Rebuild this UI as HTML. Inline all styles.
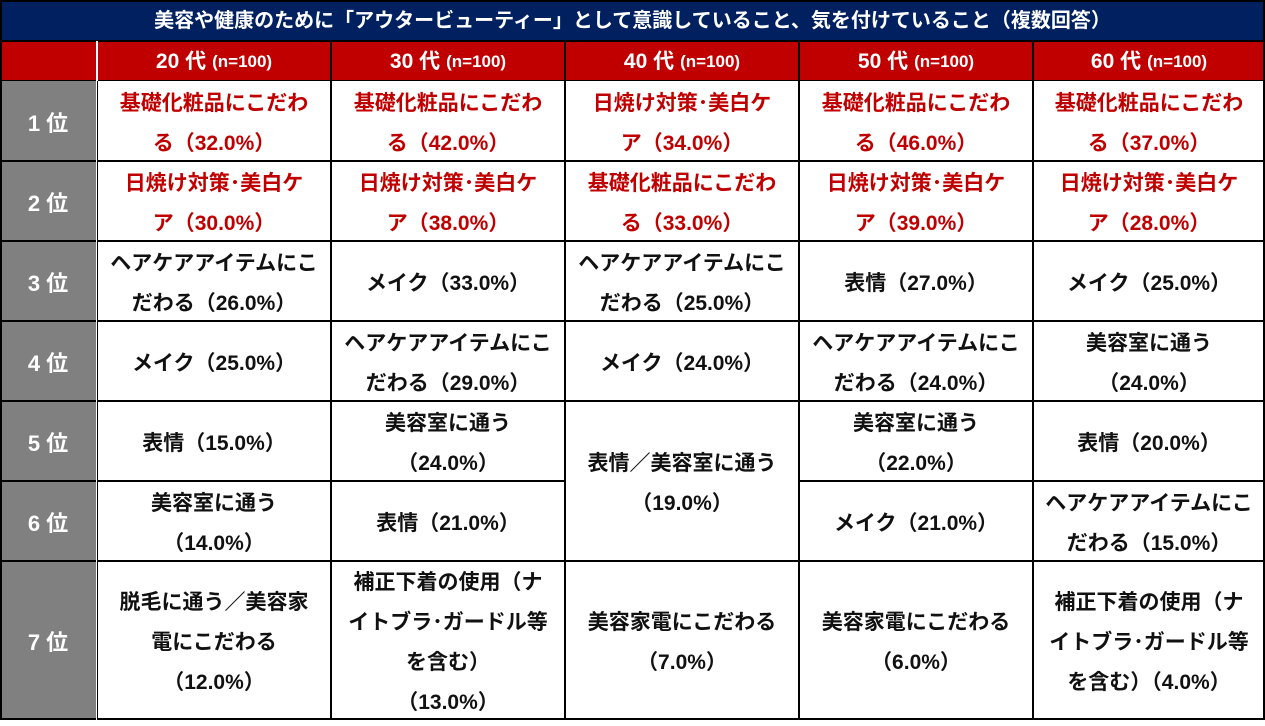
<!DOCTYPE html>
<html><head><meta charset="utf-8"><style>
body{margin:0;width:1265px;height:726px;background:#fff;position:relative;overflow:hidden;font-family:"Liberation Sans","Noto Sans CJK JP",sans-serif;font-weight:bold}
.c{position:absolute;display:flex;align-items:center;justify-content:center;text-align:center;box-sizing:border-box;font-size:21px;line-height:40px;color:#111;padding-top:5px}
.r{color:#c00000}
.g{background:#808080;color:#fff;font-size:22px}
.h{background:#c00000;color:#fff;font-size:21px;padding-top:2px}
.h small{font-size:17px;margin-left:6px}
.v{position:absolute;background:#000;width:2px}
.hl{position:absolute;background:#000;height:2px;left:0;width:1265px}
</style></head><body>
<div class="c" style="left:0;top:0;width:1265px;height:41px;background:#002060;color:#fff;font-size:20px;padding-top:1px">美容や健康のために「アウタービューティー」として意識していること、気を付けていること（複数回答）</div>
<div class="c" style="left:0;top:41px;width:1265px;height:40px;background:#c00000"></div>
<div class="c h" style="left:97px;top:41px;width:234px;height:40px">20 代<small>(n=100)</small></div>
<div class="c h" style="left:331px;top:41px;width:234px;height:40px">30 代<small>(n=100)</small></div>
<div class="c h" style="left:565px;top:41px;width:234px;height:40px">40 代<small>(n=100)</small></div>
<div class="c h" style="left:799px;top:41px;width:234px;height:40px">50 代<small>(n=100)</small></div>
<div class="c h" style="left:1033px;top:41px;width:232px;height:40px">60 代<small>(n=100)</small></div>
<div class="c g" style="left:0;top:81px;width:96px;height:638px"></div>
<div class="c g" style="left:0;top:81px;width:96px;height:80px">1 位</div>
<div class="c g" style="left:0;top:161px;width:96px;height:80px">2 位</div>
<div class="c g" style="left:0;top:241px;width:96px;height:80px">3 位</div>
<div class="c g" style="left:0;top:321px;width:96px;height:80px">4 位</div>
<div class="c g" style="left:0;top:401px;width:96px;height:80px">5 位</div>
<div class="c g" style="left:0;top:481px;width:96px;height:80px">6 位</div>
<div class="c g" style="left:0;top:561px;width:96px;height:158px">7 位</div>

<div class="c r" style="left:97px;top:81px;width:234px;height:80px">基礎化粧品にこだわ<br>る（32.0%）</div>
<div class="c r" style="left:331px;top:81px;width:234px;height:80px">基礎化粧品にこだわ<br>る（42.0%）</div>
<div class="c r" style="left:565px;top:81px;width:234px;height:80px">日焼け対策･美白ケ<br>ア（34.0%）</div>
<div class="c r" style="left:799px;top:81px;width:234px;height:80px">基礎化粧品にこだわ<br>る（46.0%）</div>
<div class="c r" style="left:1033px;top:81px;width:232px;height:80px">基礎化粧品にこだわ<br>る（37.0%）</div>

<div class="c r" style="left:97px;top:161px;width:234px;height:80px">日焼け対策･美白ケ<br>ア（30.0%）</div>
<div class="c r" style="left:331px;top:161px;width:234px;height:80px">日焼け対策･美白ケ<br>ア（38.0%）</div>
<div class="c r" style="left:565px;top:161px;width:234px;height:80px">基礎化粧品にこだわ<br>る（33.0%）</div>
<div class="c r" style="left:799px;top:161px;width:234px;height:80px">日焼け対策･美白ケ<br>ア（39.0%）</div>
<div class="c r" style="left:1033px;top:161px;width:232px;height:80px">日焼け対策･美白ケ<br>ア（28.0%）</div>

<div class="c" style="left:97px;top:241px;width:234px;height:80px">ヘアケアアイテムにこ<br>だわる（26.0%）</div>
<div class="c" style="left:331px;top:241px;width:234px;height:80px">メイク（33.0%）</div>
<div class="c" style="left:565px;top:241px;width:234px;height:80px">ヘアケアアイテムにこ<br>だわる（25.0%）</div>
<div class="c" style="left:799px;top:241px;width:234px;height:80px">表情（27.0%）</div>
<div class="c" style="left:1033px;top:241px;width:232px;height:80px">メイク（25.0%）</div>

<div class="c" style="left:97px;top:321px;width:234px;height:80px">メイク（25.0%）</div>
<div class="c" style="left:331px;top:321px;width:234px;height:80px">ヘアケアアイテムにこ<br>だわる（29.0%）</div>
<div class="c" style="left:565px;top:321px;width:234px;height:80px">メイク（24.0%）</div>
<div class="c" style="left:799px;top:321px;width:234px;height:80px">ヘアケアアイテムにこ<br>だわる（24.0%）</div>
<div class="c" style="left:1033px;top:321px;width:232px;height:80px">美容室に通う<br>（24.0%）</div>

<div class="c" style="left:97px;top:401px;width:234px;height:80px">表情（15.0%）</div>
<div class="c" style="left:331px;top:401px;width:234px;height:80px">美容室に通う<br>（24.0%）</div>
<div class="c" style="left:565px;top:401px;width:234px;height:160px">表情／美容室に通う<br>（19.0%）</div>
<div class="c" style="left:799px;top:401px;width:234px;height:80px">美容室に通う<br>（22.0%）</div>
<div class="c" style="left:1033px;top:401px;width:232px;height:80px">表情（20.0%）</div>

<div class="c" style="left:97px;top:481px;width:234px;height:80px">美容室に通う<br>（14.0%）</div>
<div class="c" style="left:331px;top:481px;width:234px;height:80px">表情（21.0%）</div>
<div class="c" style="left:799px;top:481px;width:234px;height:80px">メイク（21.0%）</div>
<div class="c" style="left:1033px;top:481px;width:232px;height:80px">ヘアケアアイテムにこ<br>だわる（15.0%）</div>

<div class="c" style="left:97px;top:561px;width:234px;height:158px">脱毛に通う／美容家<br>電にこだわる<br>（12.0%）</div>
<div class="c" style="left:331px;top:561px;width:234px;height:158px">補正下着の使用（ナ<br>イトブラ･ガードル等<br>を含む）<br>（13.0%）</div>
<div class="c" style="left:565px;top:561px;width:234px;height:158px">美容家電にこだわる<br>（7.0%）</div>
<div class="c" style="left:799px;top:561px;width:234px;height:158px">美容家電にこだわる<br>（6.0%）</div>
<div class="c" style="left:1033px;top:561px;width:232px;height:158px">補正下着の使用（ナ<br>イトブラ･ガードル等<br>を含む）（4.0%）</div>

<div class="hl" style="top:0"></div>
<div class="hl" style="top:40px"></div>
<div class="hl" style="top:80px;height:1px"></div>
<div class="hl" style="top:160px"></div>
<div class="hl" style="top:240px"></div>
<div class="hl" style="top:320px"></div>
<div class="hl" style="top:400px"></div>
<div class="hl" style="top:480px;width:565px"></div>
<div class="hl" style="top:480px;left:799px;width:466px"></div>
<div class="hl" style="top:560px"></div>
<div class="hl" style="top:718px"></div>
<div class="v" style="left:0;top:0;height:720px"></div>
<div class="v" style="left:1263px;top:0;height:720px"></div>
<div class="v" style="left:96px;top:41px;height:679px;background:#fff;width:1px"></div>
<div class="v" style="left:97px;top:81px;height:639px;width:1px"></div>
<div class="v" style="left:96px;top:41px;height:40px;width:2px;background:#fff"></div>
<div class="v" style="left:330px;top:41px;height:679px"></div>
<div class="v" style="left:564px;top:41px;height:679px"></div>
<div class="v" style="left:798px;top:41px;height:679px"></div>
<div class="v" style="left:1032px;top:41px;height:679px"></div>
</body></html>
